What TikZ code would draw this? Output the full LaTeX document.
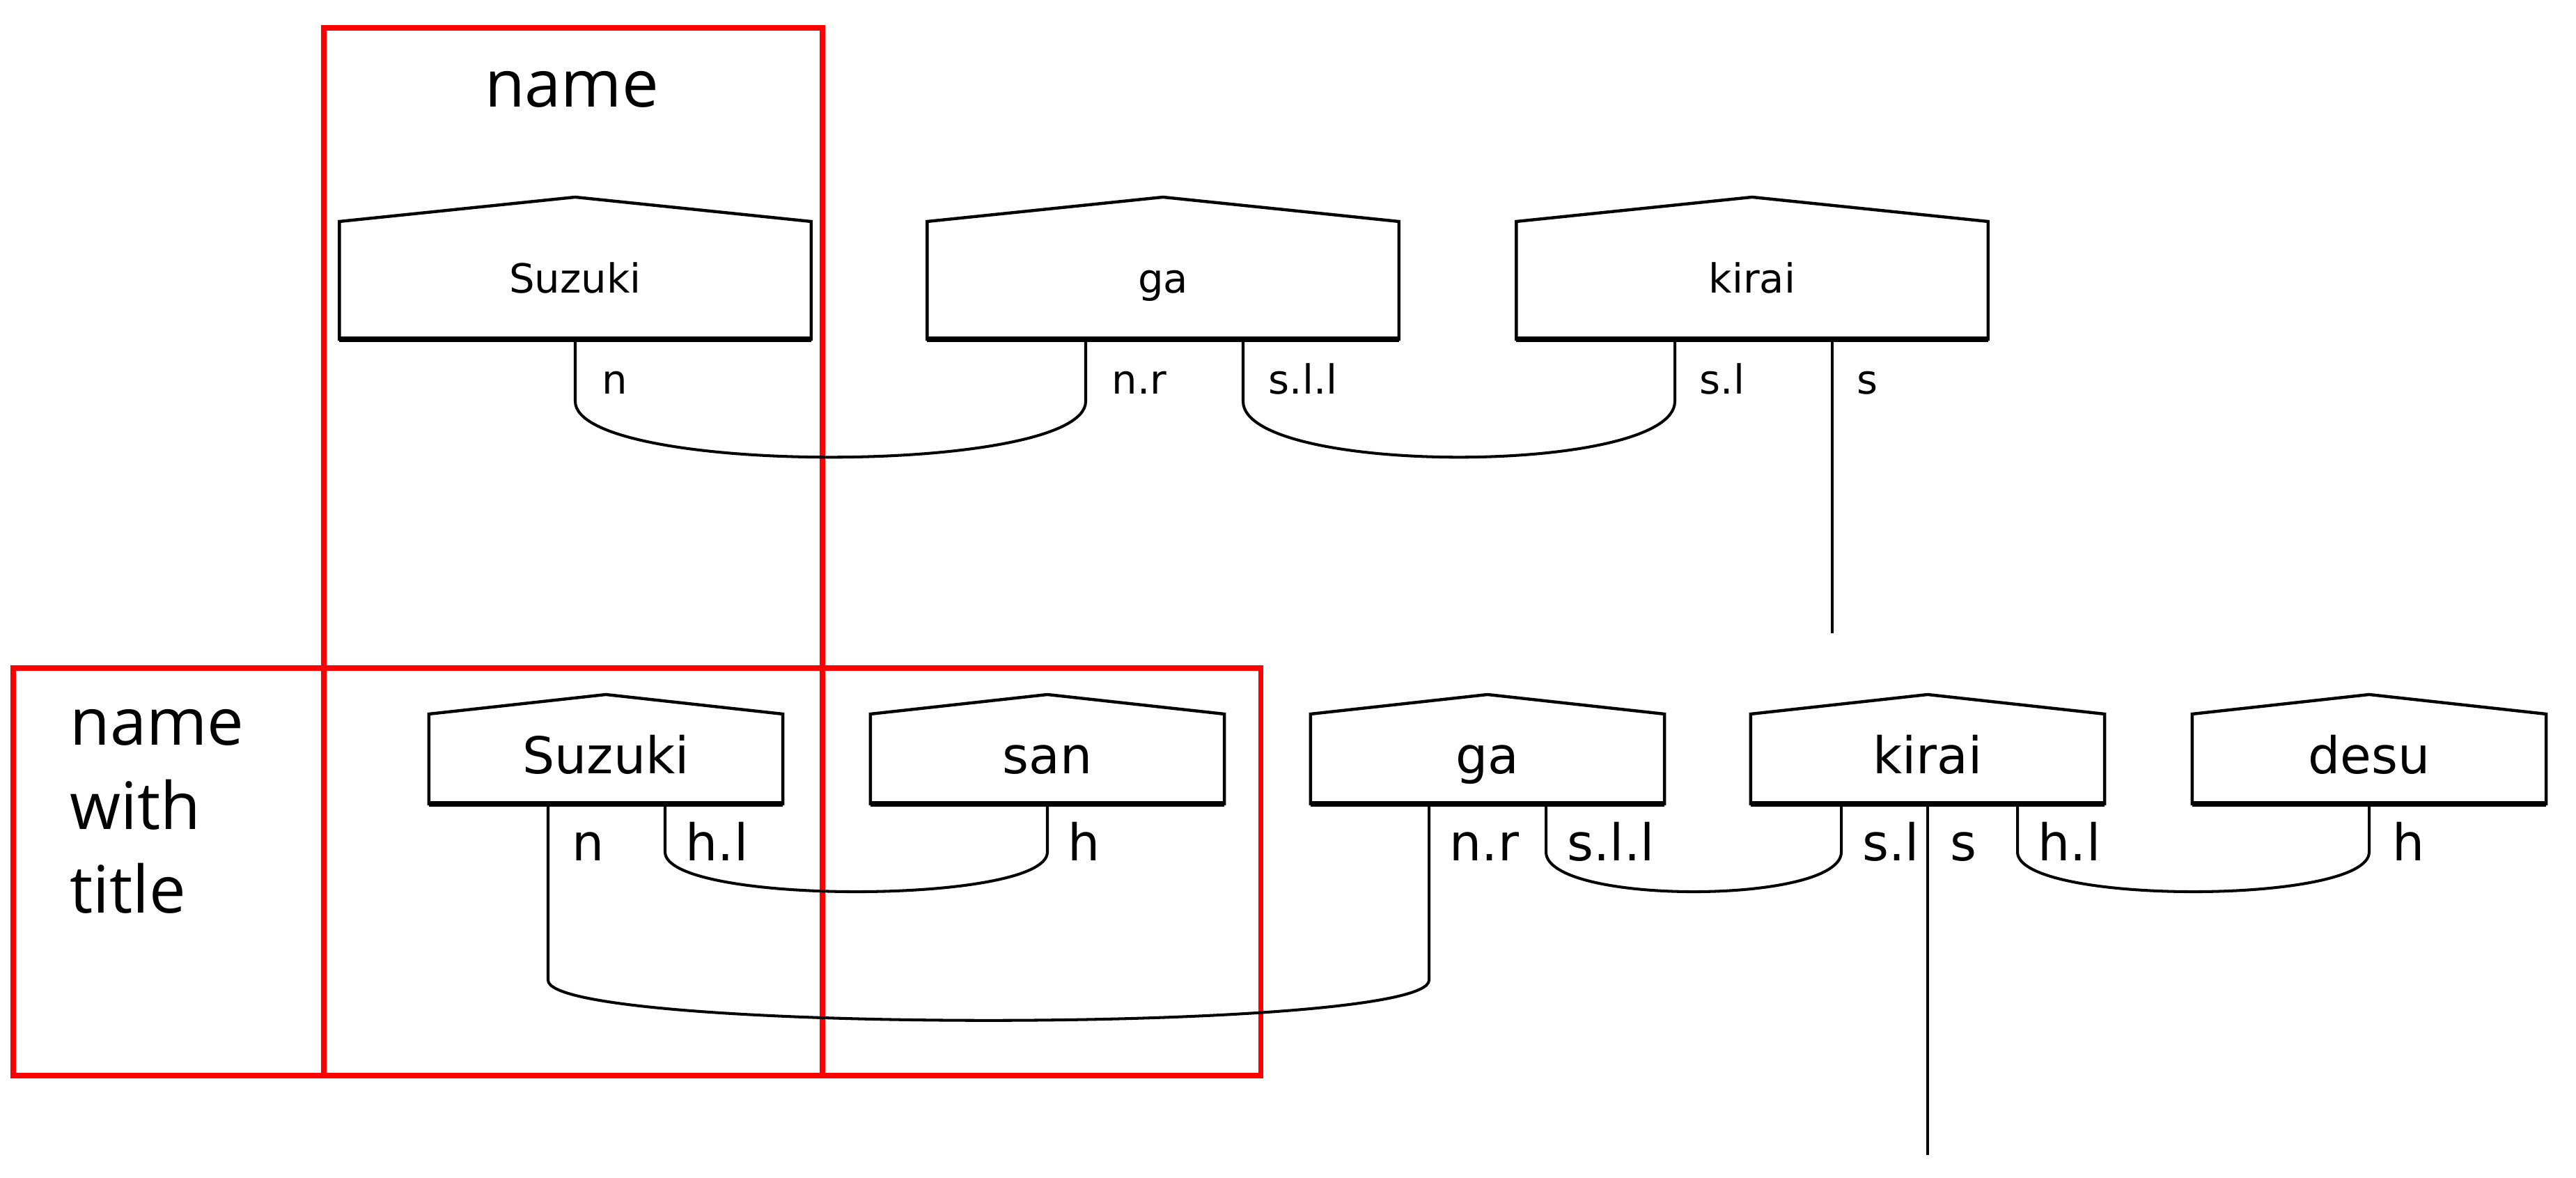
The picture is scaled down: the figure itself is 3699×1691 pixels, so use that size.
\documentclass[tikz,border=0pt]{standalone}
\usepackage{fontspec}
\setmainfont{DejaVu Sans}
\newfontfamily\captfont{Open Sans}
\usetikzlibrary{calc}
\tikzset{
  boxline/.style={line width=1.25pt, line join=miter},
  topbox/.style={outer sep=0pt, inner sep=0pt, minimum width=6.77cm, minimum height=1.69cm,
    font=\fontsize{16.4}{18}\selectfont, text height=0.36cm, text depth=0cm},
  botbox/.style={outer sep=0pt, inner sep=0pt, minimum width=5.08cm, minimum height=1.29cm,
    font=\fontsize{20.7}{23}\selectfont, text height=0.41cm, text depth=0cm},
  toplab/.style={inner sep=0pt, anchor=base west, font=\fontsize{16.4}{18}\selectfont},
  botlab/.style={inner sep=0pt, anchor=base west, font=\fontsize{20.7}{23}\selectfont},
  wire/.style={line width=1.15pt},
  redframe/.style={draw=red, line width=2pt},
  capt/.style={inner sep=0pt, font=\captfont\fontsize{26.7}{30}\selectfont}
}
\newcommand\mkbox[6]{% style, name, x, y, text, roof rise
  \node[#1] (#2) at (#3,#4) {#5};
  \draw[boxline] (#2.south west) -- (#2.north west) -- ($(#2.north)+(0,-#6)$) -- (#2.north east) -- (#2.south east) -- cycle;
  \draw[line width=2.2pt] (#2.south west) -- (#2.south east);
}
\newcommand\wirecup[4]{% port1, port2, drop, depth
  \draw[wire] (#1) -- ($(#1)+(0,#3)$) .. controls ($(#1)+(0,#3+#4)$) and ($(#2)+(0,#3+#4)$) .. ($(#2)+(0,#3)$) -- (#2);
}
\begin{document}
\begin{tikzpicture}[x=0.01cm, y=-0.01cm]
\fill[white] (0,0) rectangle (3699,1691);
\useasboundingbox (0,0) rectangle (3699,1691);

% red frames
\draw[redframe] (465,40) rectangle (1181,1544);
\draw[redframe] (19,959) rectangle (1810,1544);
\node[capt, anchor=base] (nm) at (821,154) {name};
\node[capt, anchor=base west] (nw1) at (100,1069) {name};
\node[capt, anchor=base west] (nw2) at (100,1190) {with};
\node[capt, anchor=base west] (nw3) at (100,1310) {title};

% top row
\mkbox{topbox}{T1}{826}{402.5}{Suzuki}{35}
\mkbox{topbox}{T2}{1670}{402.5}{ga}{35}
\mkbox{topbox}{T3}{2516}{402.5}{kirai}{35}
\coordinate (T1n) at (T1.south);
\coordinate (T2nr) at ($(T2.south)+(-111,0)$);
\coordinate (T2sll) at ($(T2.south)+(115,0)$);
\coordinate (T3sl) at ($(T3.south)+(-111,0)$);
\coordinate (T3s) at ($(T3.south)+(115,0)$);
\coordinate (T3send) at (2631,909);
\wirecup{T1n}{T2nr}{89}{107}
\wirecup{T2sll}{T3sl}{89}{107}
\draw[wire] (T3s) -- (T3send);
\node[toplab] (tl1) at (864,565) {n};
\node[toplab] (tl2) at (1596,565) {n.r};
\node[toplab] (tl3) at (1821,565) {s.l.l};
\node[toplab] (tl4) at (2440,565) {s.l};
\node[toplab] (tl5) at (2666,565) {s};

% bottom row
\mkbox{botbox}{B1}{870}{1089.5}{Suzuki}{28}
\mkbox{botbox}{B2}{1504}{1089.5}{san}{28}
\mkbox{botbox}{B3}{2136}{1089.5}{ga}{28}
\mkbox{botbox}{B4}{2768}{1089.5}{kirai}{28}
\mkbox{botbox}{B5}{3402}{1089.5}{desu}{28}
\coordinate (B1n) at ($(B1.south)+(-83,0)$);
\coordinate (B1hl) at ($(B1.south)+(85,0)$);
\coordinate (B2h) at (B2.south);
\coordinate (B3nr) at ($(B3.south)+(-84,0)$);
\coordinate (B3sll) at ($(B3.south)+(84,0)$);
\coordinate (B4sl) at ($(B4.south)+(-124,0)$);
\coordinate (B4s) at (B4.south);
\coordinate (B4hl) at ($(B4.south)+(129,0)$);
\coordinate (B5h) at (B5.south);
\coordinate (B4send) at (2768,1658);
\wirecup{B1hl}{B2h}{69}{76}
\wirecup{B1n}{B3nr}{253}{77}
\wirecup{B3sll}{B4sl}{69}{76}
\wirecup{B4hl}{B5h}{69}{76}
\draw[wire] (B4s) -- (B4send);
\node[botlab] (bl1) at (821,1235) {n};
\node[botlab] (bl2) at (984,1235) {h.l};
\node[botlab] (bl3) at (1533,1235) {h};
\node[botlab] (bl4) at (2081,1235) {n.r};
\node[botlab] (bl5) at (2250,1235) {s.l.l};
\node[botlab] (bl6) at (2674,1235) {s.l};
\node[botlab] (bl7) at (2800,1235) {s};
\node[botlab] (bl8) at (2926,1235) {h.l};
\node[botlab] (bl9) at (3435,1235) {h};
\end{tikzpicture}
\end{document}
